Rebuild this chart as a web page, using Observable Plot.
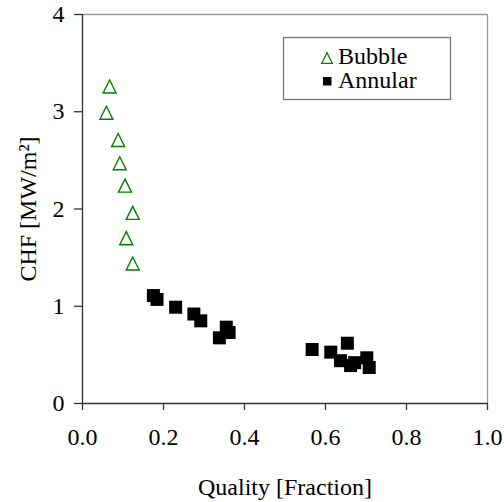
<!DOCTYPE html>
<html>
<head>
<meta charset="utf-8">
<script src="https://cdn.jsdelivr.net/npm/d3@7"></script>
<script src="https://cdn.jsdelivr.net/npm/@observablehq/plot@0.6"></script>
<style>
  html, body { margin: 0; padding: 0; background: #fff; }
  #chart { width: 504px; height: 502px; }
  #chart svg text { font-family: "Liberation Serif", "Times New Roman", serif !important; font-variant: normal !important; }
</style>
</head>
<body>
<div id="chart"></div>
<script>
// Bubble regime (hollow green triangles)
const bubbleX = [0.067, 0.059, 0.088, 0.092, 0.105, 0.124, 0.108, 0.124];
const bubbleY = [3.26, 2.99, 2.71, 2.47, 2.24, 1.96, 1.70, 1.44];
// Annular regime (filled black squares)
const annularX = [0.175, 0.184, 0.230, 0.275, 0.292, 0.355, 0.362, 0.338, 0.567, 0.613, 0.654, 0.637, 0.662, 0.672, 0.702, 0.708];
const annularY = [1.11, 1.07, 0.99, 0.92, 0.85, 0.785, 0.73, 0.675, 0.555, 0.528, 0.62, 0.44, 0.39, 0.42, 0.47, 0.37];
const xTicks = [0, 0.2, 0.4, 0.6, 0.8, 1.0];
const yTicks = [0, 1, 2, 3, 4];
const seriesNames = ["Bubble", "Annular"];
const xLabel = "Quality [Fraction]";
const yLabel = "CHF [MW/m²]";

const bubble = bubbleX.map((x, i) => ({x, y: bubbleY[i]}));
const annular = annularX.map((x, i) => ({x, y: annularY[i]}));

const green = "#008000";
const font = "Liberation Serif";
const fs = 24;

// triangle with equal width and height (Excel-style marker)
const tri = {
  draw(context, size) {
    const a = Math.sqrt(size / Math.PI);
    context.moveTo(0, -a);
    context.lineTo(a, a);
    context.lineTo(-a, a);
    context.closePath();
  }
};
const sq = {
  draw(context, size) {
    const a = Math.sqrt(size / Math.PI);
    context.rect(-a, -a, 2 * a, 2 * a);
  }
};

const chart = Plot.plot({
  width: 504,
  height: 502,
  marginLeft: 82,
  marginRight: 17,
  marginTop: 14,
  marginBottom: 99,
  x: {domain: [0, 1]},
  y: {domain: [0, 4]},
  style: {fontFamily: font, fontSize: fs + "px", color: "#000", background: "#fff", overflow: "visible"},
  marks: [
    Plot.ruleY([4], {stroke: "#999", strokeWidth: 1.3}),
    Plot.ruleX([1], {stroke: "#999", strokeWidth: 1.3}),
    Plot.axisX({ticks: xTicks, tickFormat: d3.format(".1f"), tickSize: 7, tickPadding: 17, label: null, fontSize: fs, fontFamily: font, stroke: "#333", strokeWidth: 1.3, fill: "#000"}),
    Plot.axisY({ticks: yTicks, tickFormat: d3.format("d"), tickSize: 8, tickPadding: 10, label: null, fontSize: fs, fontFamily: font, stroke: "#333", strokeWidth: 1.3, fill: "#000"}),
    Plot.ruleX([0], {stroke: "#333", strokeWidth: 1.3}),
    Plot.ruleY([0], {stroke: "#333", strokeWidth: 1.3}),
    Plot.dot(bubble, {x: "x", y: "y", symbol: tri, r: 6.5, fill: "none", stroke: green, strokeWidth: 1.4}),
    Plot.dot(annular, {x: "x", y: "y", symbol: sq, r: 6.5, fill: "#000", stroke: "none"}),
    Plot.text([xLabel], {frameAnchor: "bottom", dy: 84, lineAnchor: "middle", textAnchor: "middle", fontSize: fs, fontFamily: font, fill: "#000"}),
    Plot.text([yLabel], {frameAnchor: "left", dx: -54, rotate: -90, lineAnchor: "middle", textAnchor: "middle", fontSize: fs, fontFamily: font, fill: "#000"})
  ]
});

// Legend inside the plot area (top right), drawn as SVG overlay
const svg = d3.select(chart);
const lg = svg.append("g").attr("font-family", font).attr("font-size", fs).attr("text-anchor", "start");
lg.append("rect").attr("x", 283.5).attr("y", 37.5).attr("width", 167).attr("height", 62)
  .attr("fill", "#fff").attr("stroke", "#777").attr("stroke-width", 1.3);
const tr = 5.3;
lg.append("path").attr("d", `M327,${58 - tr}L${327 + tr},${58 + tr}L${327 - tr},${58 + tr}Z`)
  .attr("fill", "none").attr("stroke", green).attr("stroke-width", 1.3);
lg.append("text").attr("x", 338).attr("y", 64).attr("text-anchor", "start").text(seriesNames[0]);
lg.append("rect").attr("x", 323).attr("y", 77).attr("width", 8.5).attr("height", 8.5).attr("fill", "#000");
lg.append("text").attr("x", 338).attr("y", 88).attr("text-anchor", "start").text(seriesNames[1]);

document.getElementById("chart").appendChild(chart);
</script>
</body>
</html>
